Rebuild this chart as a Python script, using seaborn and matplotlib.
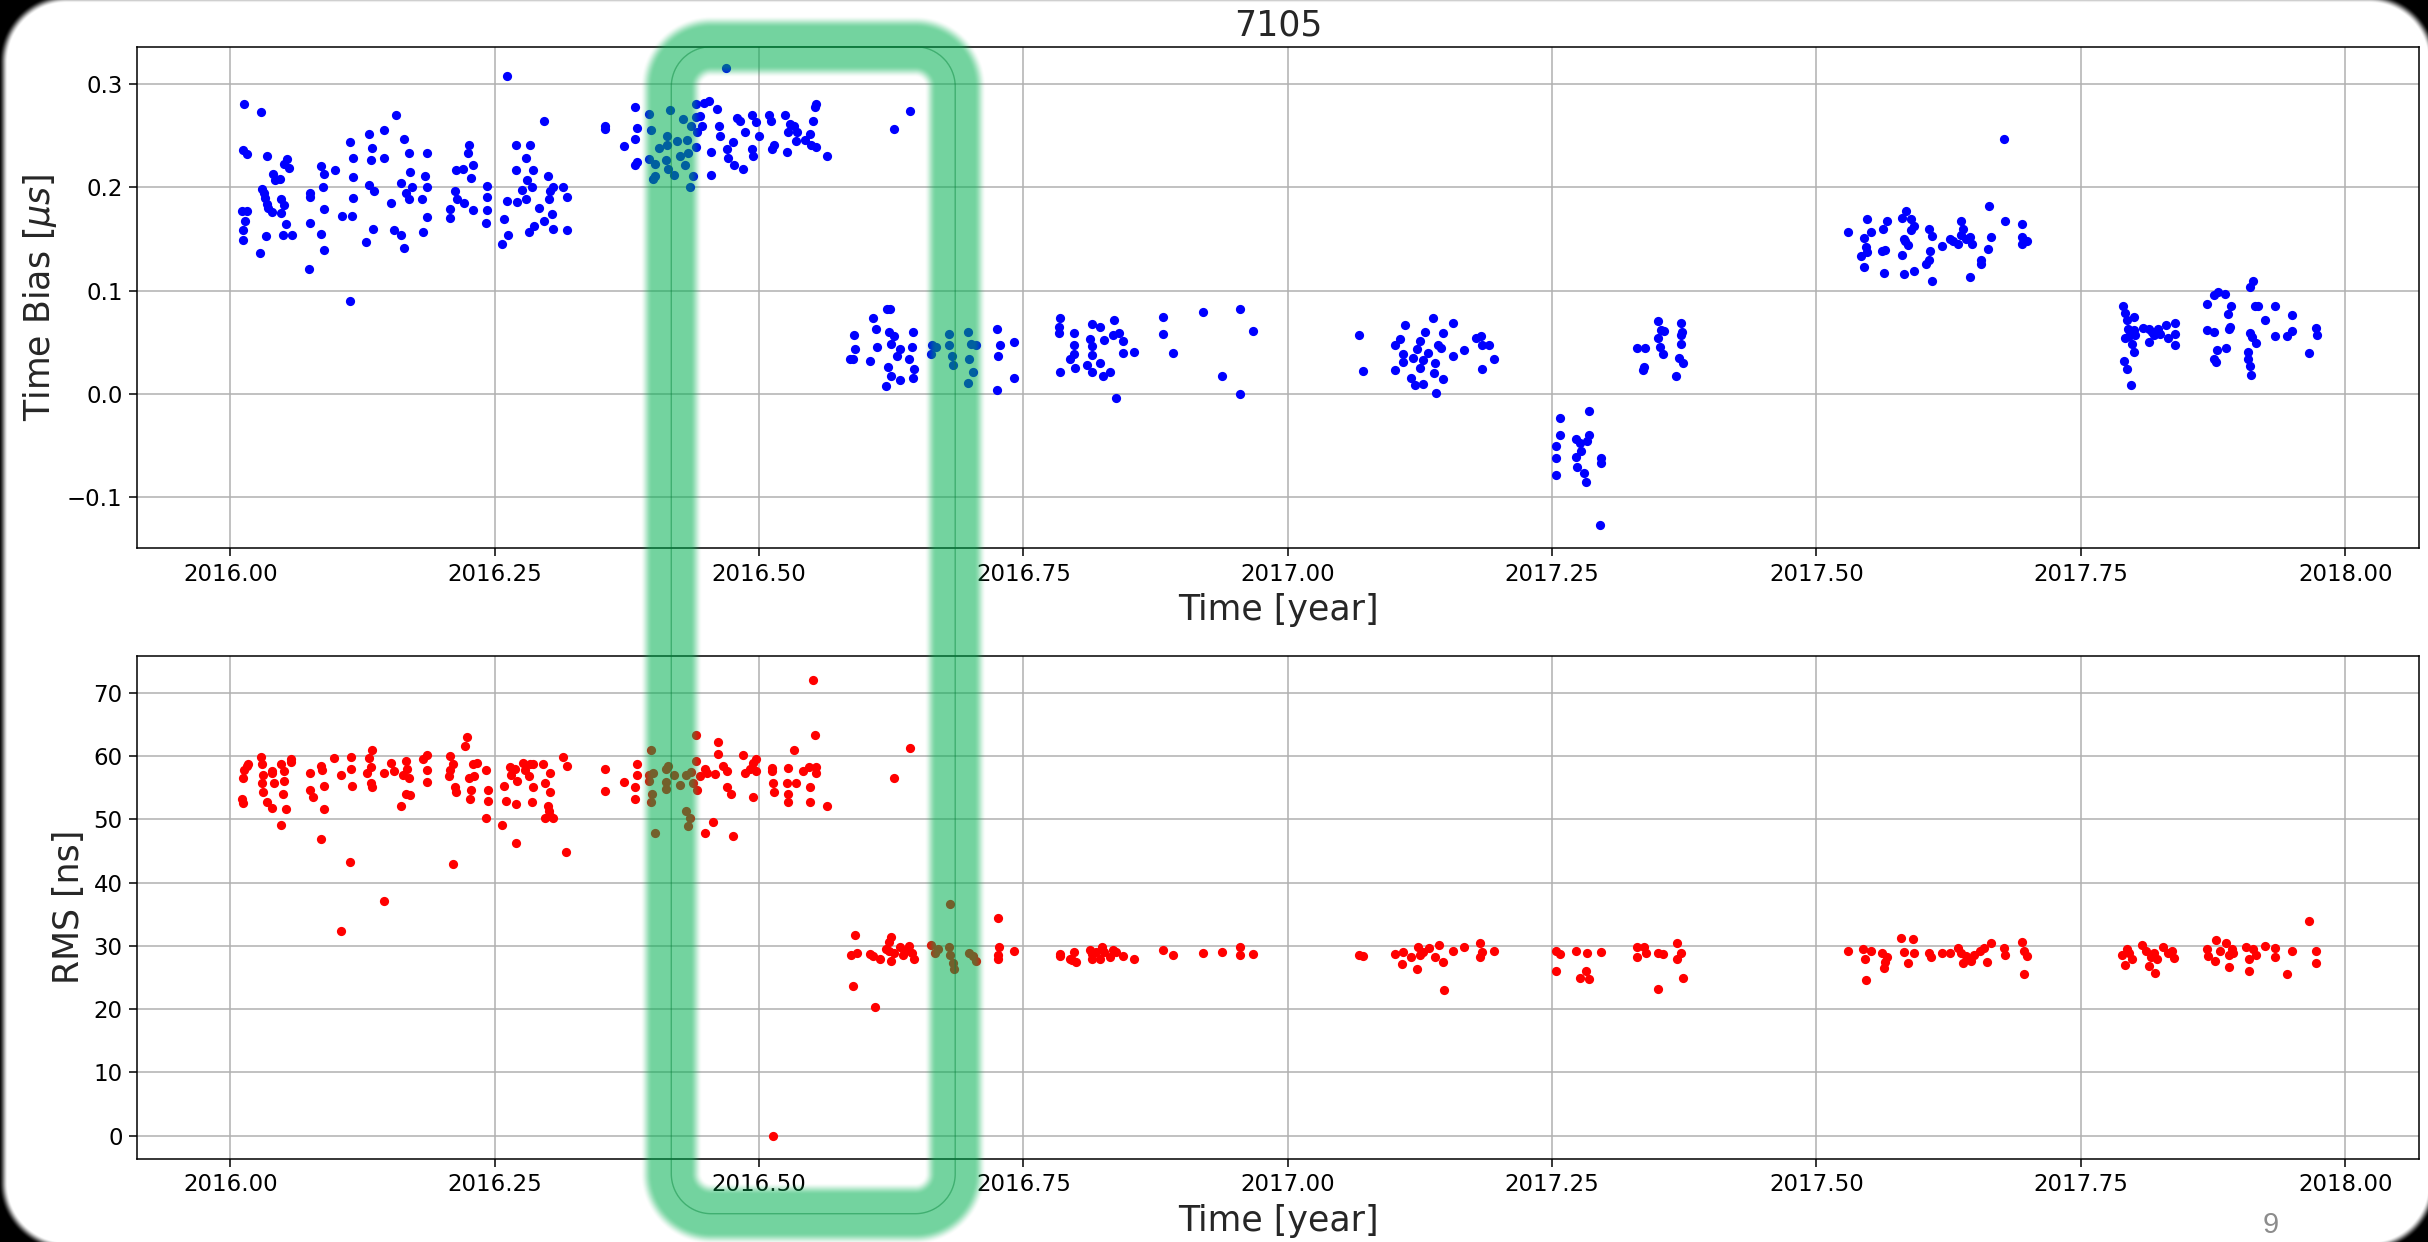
import numpy as np
import pandas as pd
import matplotlib
matplotlib.use("Agg")
import matplotlib.pyplot as plt
import seaborn as sns
from matplotlib.ticker import ScalarFormatter

# ---------------- data (year, time bias [us]) ----------------
bias_2016a = [
    (2016.013, 0.281), (2016.029, 0.273), (2016.012, 0.236), (2016.016, 0.232), (2016.035, 0.230),
    (2016.011, 0.177), (2016.016, 0.177), (2016.014, 0.167), (2016.012, 0.159), (2016.012, 0.149),
    (2016.028, 0.136), (2016.030, 0.198), (2016.032, 0.194), (2016.033, 0.190), (2016.035, 0.184),
    (2016.036, 0.180), (2016.039, 0.176), (2016.040, 0.213), (2016.042, 0.207), (2016.047, 0.208),
    (2016.051, 0.223), (2016.054, 0.227), (2016.055, 0.219), (2016.048, 0.189), (2016.051, 0.183),
    (2016.048, 0.175), (2016.053, 0.164), (2016.034, 0.153), (2016.050, 0.154), (2016.058, 0.154),
    (2016.075, 0.165), (2016.075, 0.194), (2016.075, 0.191), (2016.074, 0.121), (2016.086, 0.221),
    (2016.089, 0.213), (2016.088, 0.200), (2016.089, 0.179), (2016.086, 0.155), (2016.089, 0.139),
    (2016.099, 0.217), (2016.106, 0.172), (2016.113, 0.244), (2016.116, 0.228), (2016.116, 0.210),
    (2016.116, 0.190), (2016.115, 0.172), (2016.113, 0.090), (2016.128, 0.147), (2016.131, 0.252),
    (2016.133, 0.226), (2016.131, 0.202), (2016.134, 0.238), (2016.136, 0.196), (2016.135, 0.160),
    (2016.145, 0.255), (2016.145, 0.228), (2016.152, 0.185), (2016.157, 0.270), (2016.155, 0.159),
    (2016.161, 0.154), (2016.164, 0.141), (2016.164, 0.247), (2016.169, 0.233), (2016.161, 0.204),
    (2016.166, 0.194), (2016.169, 0.189), (2016.170, 0.215), (2016.172, 0.200), (2016.181, 0.189),
    (2016.182, 0.157), (2016.184, 0.211), (2016.186, 0.233), (2016.186, 0.171), (2016.186, 0.200),
    (2016.208, 0.179), (2016.208, 0.170), (2016.212, 0.196), (2016.213, 0.217), (2016.214, 0.189),
    (2016.220, 0.218), (2016.221, 0.185), (2016.225, 0.233), (2016.226, 0.241), (2016.228, 0.209),
    (2016.229, 0.222), (2016.229, 0.178), (2016.243, 0.201), (2016.243, 0.191), (2016.243, 0.178),
    (2016.242, 0.165), (2016.257, 0.145), (2016.262, 0.308), (2016.259, 0.169), (2016.263, 0.154),
    (2016.262, 0.187), (2016.270, 0.241), (2016.270, 0.217), (2016.271, 0.186), (2016.276, 0.197),
    (2016.280, 0.228), (2016.283, 0.241), (2016.286, 0.217), (2016.281, 0.207), (2016.285, 0.200),
    (2016.280, 0.189), (2016.282, 0.157), (2016.287, 0.163), (2016.292, 0.180), (2016.297, 0.264),
    (2016.297, 0.167), (2016.300, 0.211), (2016.301, 0.189), (2016.304, 0.174), (2016.305, 0.160),
    (2016.302, 0.196), (2016.305, 0.200), (2016.315, 0.200), (2016.318, 0.191), (2016.318, 0.159),
]
bias_2016b = [
    (2016.354, 0.259), (2016.354, 0.256), (2016.372, 0.240), (2016.383, 0.278), (2016.385, 0.257),
    (2016.383, 0.247), (2016.385, 0.224), (2016.383, 0.222), (2016.396, 0.271), (2016.398, 0.255),
    (2016.396, 0.227), (2016.402, 0.223), (2016.402, 0.211), (2016.400, 0.208), (2016.413, 0.250),
    (2016.413, 0.241), (2016.412, 0.226), (2016.414, 0.218), (2016.416, 0.275), (2016.428, 0.266),
    (2016.430, 0.222), (2016.433, 0.233), (2016.435, 0.200), (2016.436, 0.259), (2016.438, 0.211),
    (2016.440, 0.281), (2016.440, 0.268), (2016.441, 0.254), (2016.440, 0.239), (2016.444, 0.269),
    (2016.446, 0.259), (2016.448, 0.282), (2016.453, 0.284), (2016.460, 0.276), (2016.462, 0.259),
    (2016.463, 0.250), (2016.469, 0.315), (2016.455, 0.234), (2016.455, 0.212), (2016.470, 0.237),
    (2016.471, 0.228), (2016.475, 0.244), (2016.476, 0.222), (2016.479, 0.267), (2016.482, 0.264),
    (2016.485, 0.218), (2016.487, 0.254), (2016.493, 0.237), (2016.494, 0.230), (2016.493, 0.270),
    (2016.497, 0.263), (2016.500, 0.250), (2016.509, 0.270), (2016.511, 0.264), (2016.512, 0.237),
    (2016.514, 0.241), (2016.525, 0.270), (2016.527, 0.254), (2016.529, 0.261), (2016.526, 0.234),
    (2016.533, 0.259), (2016.535, 0.245), (2016.536, 0.254), (2016.543, 0.246), (2016.548, 0.252),
    (2016.549, 0.241), (2016.551, 0.264), (2016.553, 0.278), (2016.554, 0.281), (2016.554, 0.239),
    (2016.564, 0.230), (2016.628, 0.256), (2016.643, 0.274),
    (2016.422, 0.245), (2016.425, 0.230), (2016.405, 0.238), (2016.420, 0.212), (2016.432, 0.246),
]
bias_2016c = [
    (2016.586, 0.034), (2016.590, 0.057), (2016.591, 0.043), (2016.589, 0.034), (2016.605, 0.032),
    (2016.608, 0.073), (2016.611, 0.063), (2016.612, 0.045), (2016.621, 0.082), (2016.624, 0.082),
    (2016.623, 0.060), (2016.625, 0.048), (2016.628, 0.056), (2016.633, 0.043), (2016.622, 0.026),
    (2016.625, 0.017), (2016.620, 0.008), (2016.633, 0.013), (2016.642, 0.034), (2016.646, 0.060),
    (2016.645, 0.045), (2016.646, 0.015), (2016.647, 0.024), (2016.630, 0.037), (2016.663, 0.039),
    (2016.664, 0.047), (2016.667, 0.045), (2016.680, 0.058), (2016.680, 0.047), (2016.682, 0.037),
    (2016.683, 0.028), (2016.698, 0.060), (2016.700, 0.048), (2016.699, 0.034), (2016.702, 0.021),
    (2016.698, 0.011), (2016.705, 0.047), (2016.725, 0.063), (2016.726, 0.037), (2016.725, 0.004),
    (2016.728, 0.047), (2016.741, 0.050), (2016.741, 0.015),
]
bias_2016d = [
    (2016.785, 0.073), (2016.784, 0.065), (2016.784, 0.059), (2016.785, 0.021), (2016.798, 0.059),
    (2016.798, 0.047), (2016.798, 0.039), (2016.794, 0.034), (2016.799, 0.025), (2016.813, 0.053),
    (2016.815, 0.068), (2016.822, 0.065), (2016.815, 0.046), (2016.815, 0.038), (2016.810, 0.028),
    (2016.815, 0.021), (2016.822, 0.030), (2016.825, 0.017), (2016.832, 0.021), (2016.826, 0.052),
    (2016.836, 0.072), (2016.835, 0.057), (2016.840, 0.059), (2016.844, 0.051), (2016.844, 0.040),
    (2016.838, -0.004), (2016.855, 0.041), (2016.882, 0.074), (2016.882, 0.058), (2016.891, 0.040),
    (2016.920, 0.079), (2016.938, 0.017), (2016.955, 0.082), (2016.955, 0.000), (2016.967, 0.061),
]
bias_2017a = [
    (2017.067, 0.057), (2017.071, 0.022), (2017.101, 0.047), (2017.101, 0.023), (2017.106, 0.053),
    (2017.109, 0.039), (2017.109, 0.031), (2017.111, 0.067), (2017.117, 0.015), (2017.120, 0.009),
    (2017.122, 0.043), (2017.125, 0.051), (2017.125, 0.025), (2017.128, 0.010), (2017.128, 0.033),
    (2017.130, 0.060), (2017.137, 0.073), (2017.138, 0.020), (2017.140, 0.001), (2017.139, 0.030),
    (2017.142, 0.047), (2017.147, 0.059), (2017.147, 0.014), (2017.156, 0.069), (2017.156, 0.037),
    (2017.167, 0.042), (2017.178, 0.054), (2017.183, 0.056), (2017.184, 0.047), (2017.184, 0.024),
    (2017.190, 0.047), (2017.195, 0.034), (2017.133, 0.040), (2017.118, 0.035), (2017.145, 0.044),
]
bias_2017b = [
    (2017.257, -0.023), (2017.257, -0.040), (2017.254, -0.050), (2017.254, -0.062), (2017.254, -0.079),
    (2017.273, -0.044), (2017.276, -0.048), (2017.273, -0.061), (2017.274, -0.071), (2017.280, -0.077),
    (2017.282, -0.085), (2017.277, -0.055), (2017.285, -0.017), (2017.285, -0.040), (2017.283, -0.046),
    (2017.296, -0.062), (2017.296, -0.067), (2017.295, -0.127),
    (2017.330, 0.044), (2017.338, 0.044), (2017.336, 0.023), (2017.337, 0.026), (2017.350, 0.071),
    (2017.350, 0.054), (2017.353, 0.062), (2017.356, 0.061), (2017.355, 0.039), (2017.352, 0.045),
    (2017.367, 0.017), (2017.372, 0.069), (2017.372, 0.057), (2017.372, 0.048), (2017.373, 0.060),
    (2017.370, 0.035), (2017.374, 0.030),
]
bias_2017c = [
    (2017.530, 0.157), (2017.548, 0.169), (2017.552, 0.157), (2017.545, 0.151), (2017.547, 0.142),
    (2017.548, 0.137), (2017.542, 0.133), (2017.545, 0.123), (2017.563, 0.160), (2017.567, 0.167),
    (2017.565, 0.139), (2017.562, 0.138), (2017.564, 0.117), (2017.581, 0.170), (2017.585, 0.177),
    (2017.589, 0.169), (2017.592, 0.163), (2017.589, 0.159), (2017.584, 0.148), (2017.583, 0.150),
    (2017.587, 0.144), (2017.581, 0.134), (2017.583, 0.116), (2017.592, 0.119), (2017.606, 0.160),
    (2017.609, 0.153), (2017.607, 0.138), (2017.606, 0.130), (2017.604, 0.126), (2017.609, 0.109),
    (2017.619, 0.143), (2017.626, 0.150), (2017.629, 0.148), (2017.634, 0.145), (2017.637, 0.167),
    (2017.639, 0.160), (2017.637, 0.154), (2017.641, 0.150), (2017.645, 0.152), (2017.647, 0.145),
    (2017.645, 0.113), (2017.656, 0.130), (2017.656, 0.126), (2017.662, 0.140), (2017.665, 0.152),
    (2017.663, 0.182), (2017.677, 0.247), (2017.678, 0.167), (2017.694, 0.164), (2017.694, 0.152),
    (2017.694, 0.145), (2017.699, 0.148),
]
bias_2017d = [
    (2017.790, 0.085), (2017.792, 0.078), (2017.794, 0.072), (2017.800, 0.074), (2017.795, 0.063),
    (2017.792, 0.054), (2017.796, 0.056), (2017.798, 0.048), (2017.800, 0.041), (2017.791, 0.032),
    (2017.794, 0.024), (2017.797, 0.009), (2017.801, 0.057), (2017.800, 0.062), (2017.809, 0.064),
    (2017.814, 0.063), (2017.814, 0.050), (2017.819, 0.057), (2017.823, 0.063), (2017.825, 0.058),
    (2017.831, 0.067), (2017.832, 0.054), (2017.839, 0.069), (2017.839, 0.058), (2017.839, 0.047),
    (2017.817, 0.060),
    (2017.869, 0.087), (2017.876, 0.096), (2017.880, 0.099), (2017.886, 0.097), (2017.892, 0.085),
    (2017.889, 0.077), (2017.890, 0.063), (2017.891, 0.065), (2017.869, 0.062), (2017.876, 0.060),
    (2017.879, 0.042), (2017.876, 0.034), (2017.878, 0.031), (2017.887, 0.044), (2017.910, 0.103),
    (2017.913, 0.109), (2017.915, 0.085), (2017.918, 0.085), (2017.924, 0.072), (2017.910, 0.059),
    (2017.912, 0.055), (2017.916, 0.049), (2017.908, 0.041), (2017.908, 0.034), (2017.910, 0.027),
    (2017.911, 0.018), (2017.934, 0.085), (2017.934, 0.056), (2017.945, 0.056), (2017.950, 0.076),
    (2017.950, 0.061), (2017.966, 0.040), (2017.972, 0.064), (2017.973, 0.057),
]

# ---------------- data (year, RMS [ns]) ----------------
rms_2016a = [
    (2016.011, 53.3), (2016.012, 52.6), (2016.012, 56.6), (2016.013, 57.8), (2016.016, 58.5),
    (2016.017, 58.8), (2016.029, 59.9), (2016.030, 58.7), (2016.031, 57.1), (2016.030, 55.8),
    (2016.031, 54.3), (2016.035, 52.8), (2016.039, 51.8), (2016.039, 57.7), (2016.039, 57.4),
    (2016.041, 55.8), (2016.048, 49.2), (2016.048, 58.8), (2016.051, 57.7), (2016.051, 56.1),
    (2016.050, 54.0), (2016.053, 51.6), (2016.057, 59.6), (2016.057, 59.1), (2016.075, 57.4),
    (2016.075, 54.6), (2016.078, 53.5), (2016.086, 58.5), (2016.087, 57.8), (2016.089, 55.3),
    (2016.089, 51.6), (2016.086, 46.9), (2016.098, 59.7), (2016.105, 57.0), (2016.105, 32.3),
    (2016.113, 43.3), (2016.114, 58.0), (2016.114, 59.9), (2016.115, 55.3), (2016.134, 61.0),
    (2016.131, 59.7), (2016.133, 58.3), (2016.129, 57.4), (2016.133, 55.8), (2016.134, 55.2),
    (2016.145, 57.4), (2016.145, 37.1), (2016.152, 59.0), (2016.155, 57.7), (2016.161, 52.1),
    (2016.163, 57.1), (2016.166, 59.3), (2016.167, 58.0), (2016.169, 56.5), (2016.166, 54.0),
    (2016.170, 53.8), (2016.182, 59.6), (2016.186, 60.2), (2016.186, 57.8), (2016.186, 56.0),
    (2016.208, 60.0), (2016.208, 57.8), (2016.211, 58.7), (2016.212, 55.2), (2016.213, 54.3),
    (2016.211, 43.0), (2016.207, 56.8), (2016.224, 63.0), (2016.222, 61.6), (2016.226, 56.5),
    (2016.229, 58.7), (2016.230, 56.8), (2016.228, 54.6), (2016.227, 53.3), (2016.233, 59.0),
    (2016.242, 57.8), (2016.244, 54.6), (2016.244, 53.0), (2016.242, 50.2), (2016.257, 49.1),
    (2016.261, 53.0), (2016.259, 55.3), (2016.264, 58.3), (2016.265, 57.1), (2016.269, 58.0),
    (2016.271, 56.1), (2016.270, 52.4), (2016.270, 46.3), (2016.277, 59.0), (2016.279, 57.8),
    (2016.282, 56.8), (2016.283, 58.7), (2016.286, 58.7), (2016.286, 55.2), (2016.285, 52.8),
    (2016.296, 58.8), (2016.298, 55.8), (2016.302, 57.4), (2016.302, 54.3), (2016.300, 52.2),
    (2016.301, 51.4), (2016.302, 50.5), (2016.305, 50.2), (2016.298, 50.3), (2016.315, 59.9),
    (2016.318, 58.5), (2016.317, 44.9),
]
rms_2016b = [
    (2016.354, 58.0), (2016.354, 54.5), (2016.372, 56.0), (2016.385, 58.7), (2016.385, 57.1),
    (2016.383, 55.2), (2016.383, 53.2), (2016.398, 61.0), (2016.396, 57.1), (2016.396, 56.1),
    (2016.400, 57.4), (2016.399, 54.0), (2016.398, 52.8), (2016.402, 47.9), (2016.412, 58.0),
    (2016.414, 58.5), (2016.412, 56.0), (2016.412, 54.9), (2016.431, 51.3), (2016.431, 57.1),
    (2016.435, 50.2), (2016.433, 48.9), (2016.440, 63.4), (2016.440, 59.3), (2016.438, 55.8),
    (2016.441, 54.7), (2016.436, 57.5), (2016.449, 47.8), (2016.449, 58.0), (2016.451, 57.4),
    (2016.456, 49.6), (2016.461, 62.2), (2016.461, 60.4), (2016.470, 57.7), (2016.470, 55.2),
    (2016.473, 54.0), (2016.475, 47.4), (2016.485, 60.2), (2016.487, 57.4), (2016.491, 58.0),
    (2016.494, 59.0), (2016.497, 59.5), (2016.497, 57.7), (2016.494, 53.6), (2016.512, 58.2),
    (2016.513, 55.8), (2016.514, 54.3), (2016.512, 57.7), (2016.527, 58.2), (2016.526, 55.8),
    (2016.527, 54.0), (2016.527, 52.8), (2016.533, 61.0), (2016.535, 55.8), (2016.542, 57.6),
    (2016.547, 58.3), (2016.548, 52.8), (2016.548, 55.2), (2016.553, 63.4), (2016.551, 72.1),
    (2016.554, 57.4), (2016.554, 58.3), (2016.564, 52.1), (2016.513, 0.0),
    (2016.628, 56.6), (2016.643, 61.3),
    (2016.420, 57.0), (2016.425, 55.5), (2016.444, 56.8), (2016.458, 57.2), (2016.466, 58.4),
]
rms_2016c = [
    (2016.587, 28.5), (2016.589, 23.7), (2016.591, 31.8), (2016.593, 28.9), (2016.610, 20.4),
    (2016.605, 28.7), (2016.608, 28.4), (2016.614, 27.9), (2016.623, 30.7), (2016.625, 31.4),
    (2016.623, 29.2), (2016.625, 27.6), (2016.628, 28.9), (2016.633, 29.8), (2016.636, 28.5),
    (2016.639, 29.2), (2016.642, 30.0), (2016.645, 28.9), (2016.647, 27.9), (2016.620, 29.5),
    (2016.663, 30.2), (2016.666, 28.9), (2016.669, 29.5), (2016.681, 36.6), (2016.680, 29.8),
    (2016.681, 28.5), (2016.683, 27.3), (2016.684, 26.3), (2016.699, 28.9), (2016.702, 28.4),
    (2016.705, 27.7), (2016.726, 34.5), (2016.726, 28.5), (2016.727, 29.9), (2016.726, 28.0),
    (2016.741, 29.2),
]
rms_2016d = [
    (2016.785, 28.8), (2016.785, 28.4), (2016.794, 28.0), (2016.798, 29.1), (2016.800, 27.5),
    (2016.796, 27.8), (2016.813, 29.4), (2016.815, 28.8), (2016.815, 28.0), (2016.819, 29.1),
    (2016.824, 29.9), (2016.822, 28.0), (2016.826, 29.1), (2016.832, 28.3), (2016.835, 29.3),
    (2016.838, 29.1), (2016.844, 28.4), (2016.855, 28.0), (2016.882, 29.3), (2016.891, 28.5),
    (2016.920, 28.9), (2016.938, 29.1), (2016.955, 29.9), (2016.955, 28.5), (2016.967, 28.8),
]
rms_2017a = [
    (2017.067, 28.5), (2017.071, 28.4), (2017.101, 28.7), (2017.109, 29.1), (2017.108, 27.2),
    (2017.117, 28.3), (2017.122, 26.4), (2017.123, 29.9), (2017.125, 28.5), (2017.128, 29.1),
    (2017.134, 29.6), (2017.139, 28.3), (2017.143, 30.1), (2017.147, 27.5), (2017.148, 23.1),
    (2017.156, 29.2), (2017.167, 29.8), (2017.182, 30.4), (2017.182, 28.2), (2017.184, 29.0),
    (2017.195, 29.2),
    (2017.254, 29.2), (2017.257, 28.7), (2017.254, 26.0), (2017.273, 29.2), (2017.276, 25.0),
    (2017.282, 26.0), (2017.285, 24.8), (2017.283, 28.9), (2017.296, 29.0),
    (2017.330, 29.8), (2017.330, 28.2), (2017.337, 29.8), (2017.339, 28.9), (2017.350, 23.2),
    (2017.350, 28.9), (2017.355, 28.7), (2017.368, 30.4), (2017.368, 27.9), (2017.372, 28.9),
    (2017.374, 24.9),
]
rms_2017b = [
    (2017.530, 29.2), (2017.544, 29.5), (2017.546, 27.9), (2017.547, 24.6), (2017.552, 29.2),
    (2017.562, 28.9), (2017.565, 27.5), (2017.564, 26.5), (2017.567, 28.2), (2017.580, 31.2),
    (2017.583, 29.0), (2017.587, 27.3), (2017.591, 31.1), (2017.592, 28.9), (2017.606, 28.9),
    (2017.608, 28.2), (2017.619, 28.9), (2017.626, 28.9), (2017.634, 29.6), (2017.637, 28.9),
    (2017.639, 27.3), (2017.641, 28.4), (2017.646, 27.7), (2017.649, 28.5), (2017.655, 29.2),
    (2017.658, 29.6), (2017.661, 27.5), (2017.665, 30.4), (2017.677, 29.6), (2017.678, 28.5),
    (2017.694, 30.6), (2017.696, 29.2), (2017.699, 28.4), (2017.696, 25.6),
    (2017.789, 28.5), (2017.792, 27.0), (2017.794, 29.5), (2017.796, 28.9), (2017.798, 27.9),
    (2017.808, 30.2), (2017.812, 29.2), (2017.814, 26.9), (2017.816, 28.2), (2017.819, 28.9),
    (2017.820, 25.8), (2017.822, 27.9), (2017.828, 29.8), (2017.832, 28.9), (2017.836, 29.2),
    (2017.838, 28.1),
    (2017.869, 29.5), (2017.870, 28.4), (2017.878, 30.9), (2017.877, 27.7), (2017.882, 29.2),
    (2017.887, 30.4), (2017.890, 28.5), (2017.890, 26.7), (2017.893, 29.5), (2017.894, 28.9),
    (2017.906, 29.8), (2017.909, 27.9), (2017.909, 26.0), (2017.913, 29.5), (2017.916, 28.5),
    (2017.924, 30.0), (2017.934, 29.6), (2017.934, 28.2), (2017.945, 25.5), (2017.950, 29.2),
    (2017.966, 34.0), (2017.972, 29.2), (2017.972, 27.3),
]

station = "7105"
xlabel = "Time [year]"
ylabel_top = r"Time Bias [$\mu s$]"
ylabel_bot = "RMS [ns]"
page_number = "9"
highlight_years = (2016.417, 2016.6855)

bias = pd.DataFrame(bias_2016a + bias_2016b + bias_2016c + bias_2016d +
                    bias_2017a + bias_2017b + bias_2017c + bias_2017d, columns=["year", "bias"])
rms = pd.DataFrame(rms_2016a + rms_2016b + rms_2016c + rms_2016d +
                   rms_2017a + rms_2017b, columns=["year", "rms"])

# ---------------- style ----------------
sns.set_theme(style="white")
plt.rcParams["font.family"] = ["DejaVu Sans"]
plt.rcParams["mathtext.fontset"] = "dejavusans"
plt.rcParams["axes.edgecolor"] = "black"
plt.rcParams["axes.linewidth"] = 1.1

W, H = 2428, 1242
fig = plt.figure(figsize=(W / 100, H / 100), dpi=100, facecolor="white")
L, R = 137.3, 2419.2
ax1 = fig.add_axes([L / W, 1 - 548.0 / H, (R - L) / W, (548.0 - 46.7) / H])
ax2 = fig.add_axes([L / W, 1 - 1158.7 / H, (R - L) / W, (1158.7 - 655.7) / H])

sns.scatterplot(data=bias, x="year", y="bias", color=(0, 0, 1), s=44, linewidth=0, ax=ax1, zorder=3)
sns.scatterplot(data=rms, x="year", y="rms", color=(1, 0, 0), s=44, linewidth=0, ax=ax2, zorder=3)

for ax, yl in ((ax1, ylabel_top), (ax2, ylabel_bot)):
    ax.set_xlim(2015.912, 2018.070)
    ax.set_xticks(np.arange(2016.0, 2018.01, 0.25))
    ax.grid(True, color="#b0b0b0", linewidth=1.1)
    ax.set_axisbelow(True)
    ax.tick_params(axis="both", labelsize=16.5, length=5.8, width=1.1, pad=4.8, colors="black",
                   bottom=True, left=True, direction="out")
    fmt = ScalarFormatter(useOffset=False)
    ax.xaxis.set_major_formatter(fmt)
    ax.set_xlabel(xlabel, fontsize=25, labelpad=5.5)
    ax.set_ylabel(yl, fontsize=25, labelpad=5.5)
    for sp in ax.spines.values():
        sp.set_color("black")
        sp.set_linewidth(1.1)

ax1.set_ylim(-0.1492, 0.3361)
ax1.set_yticks([-0.1, 0.0, 0.1, 0.2, 0.3])
ax1.yaxis.set_major_formatter(matplotlib.ticker.FormatStrFormatter("%.1f"))
ax1.yaxis.set_major_formatter(matplotlib.ticker.FuncFormatter(lambda v, p: f"{v:.1f}".replace("-", "\u2212")))
ax2.set_ylim(-3.64, 75.9)
ax2.set_yticks(np.arange(0, 71, 10))
ax1.set_title(station, fontsize=25, pad=8)

fig.text(2271 / W, 1 - 1225 / H, page_number, ha="center", va="center", fontsize=21,
         color="#8c8c8c", family=["Liberation Sans", "DejaVu Sans"])

# ---------------- overlay: green highlight + slide frame ----------------
fig.canvas.draw()
x0 = ax1.transData.transform((highlight_years[0], 0))[0]
x1 = ax1.transData.transform((highlight_years[1], 0))[0]
y_top = H - ax1.get_window_extent().y1          # from image top
y_bot = H - (ax2.get_window_extent().y0 - 55)


def rbox_sdf(xx, yy, bx0, by0, bx1, by1, r):
    cx, cy = (bx0 + bx1) / 2, (by0 + by1) / 2
    hx, hy = (bx1 - bx0) / 2, (by1 - by0) / 2
    qx = np.abs(xx - cx) - (hx - r)
    qy = np.abs(yy - cy) - (hy - r)
    outside = np.hypot(np.maximum(qx, 0), np.maximum(qy, 0))
    inside = np.minimum(np.maximum(qx, qy), 0)
    return outside + inside - r


def smooth(t):
    t = np.clip(t, 0, 1)
    return t * t * (3 - 2 * t)


yy, xx = np.mgrid[0:H, 0:W].astype(float) + 0.5
d_band = np.abs(rbox_sdf(xx, yy, x0, y_top, x1, y_bot, 40))
a_band = 0.55 * smooth((31 - d_band) / 12)
a_line = 0.45 * np.clip(1.2 - d_band, 0, 1)
d_slide = rbox_sdf(xx, yy, 5, 0, 2431, 1245, 62)
a_black = smooth((d_slide + 3) / 9)


def over(c_top, a_top, c_bot, a_bot):
    a_out = a_top + a_bot * (1 - a_top)
    safe = np.where(a_out > 0, a_out, 1)
    c_out = (c_top * a_top[..., None] + c_bot * (a_bot * (1 - a_top))[..., None]) / safe[..., None]
    return c_out, a_out


c_band = np.broadcast_to(np.array([0, 176, 80]) / 255.0, (H, W, 3))
c_line = np.broadcast_to(np.array([0, 130, 55]) / 255.0, (H, W, 3))
c_black = np.zeros((H, W, 3))
c, a = over(c_line, a_line, c_band, a_band)
c, a = over(c_black, a_black, c, a)
rgba = np.dstack([c, a]).astype(np.float32)
img = fig.figimage(rgba, xo=0, yo=0, origin="upper", zorder=10)

fig.savefig("out.png", dpi=100, facecolor="white")
